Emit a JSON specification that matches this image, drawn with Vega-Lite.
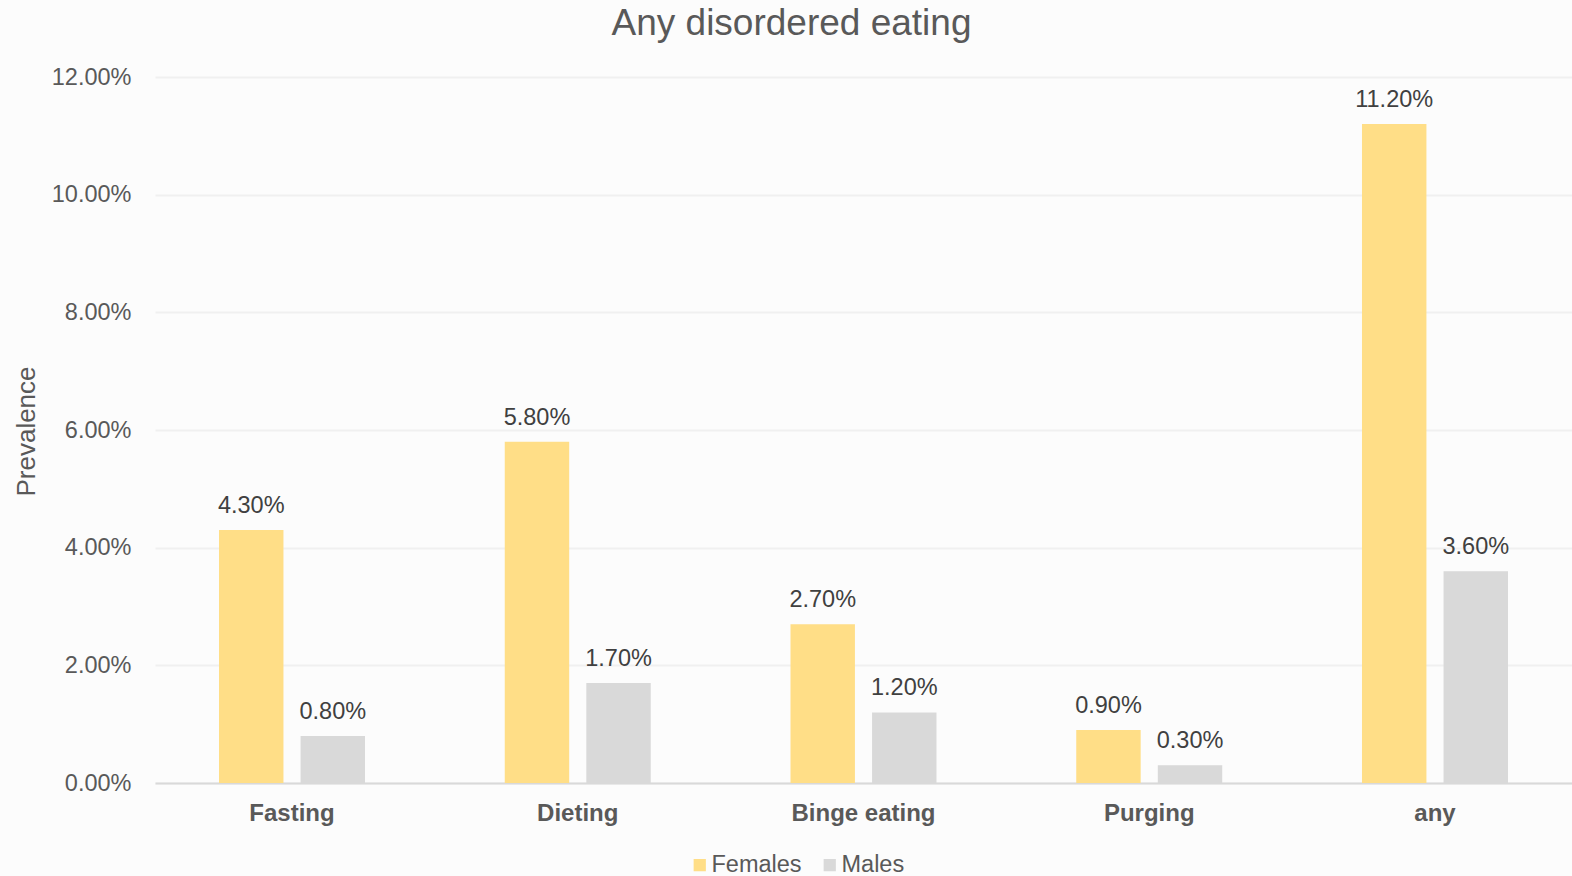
{
  "$schema": "https://vega.github.io/schema/vega-lite/v6.json",
  "width": 1417,
  "height": 706,
  "autosize": {"type": "none"},
  "padding": {"left": 155, "top": 77, "right": 0, "bottom": 93},
  "background": "#fcfcfc",
  "title": {
    "text": "Any disordered eating",
    "fontSize": 37,
    "fontWeight": "normal",
    "font": "Liberation Sans",
    "color": "#595959",
    "anchor": "middle",
    "dx": -72,
    "offset": 22
  },
  "config": {
    "font": "Liberation Sans",
    "view": {"stroke": null}
  },
  "data": {
    "values": [
      {"category": "Fasting", "sex": "Females", "value": 0.043},
      {"category": "Fasting", "sex": "Males", "value": 0.008},
      {"category": "Dieting", "sex": "Females", "value": 0.058},
      {"category": "Dieting", "sex": "Males", "value": 0.017},
      {"category": "Binge eating", "sex": "Females", "value": 0.027},
      {"category": "Binge eating", "sex": "Males", "value": 0.012},
      {"category": "Purging", "sex": "Females", "value": 0.009},
      {"category": "Purging", "sex": "Males", "value": 0.003},
      {"category": "any", "sex": "Females", "value": 0.112},
      {"category": "any", "sex": "Males", "value": 0.036}
    ]
  },
  "encoding": {
    "x": {
      "field": "category",
      "type": "nominal",
      "sort": ["Fasting", "Dieting", "Binge eating", "Purging", "any"],
      "scale": {"paddingInner": 0.489, "paddingOuter": 0.224},
      "axis": {
        "title": null,
        "labelAngle": 0,
        "ticks": false,
        "labelFontSize": 24,
        "labelFontWeight": "bold",
        "labelColor": "#595959",
        "labelPadding": 18,
        "domainColor": "#d9d9d9",
        "domainWidth": 2
      }
    },
    "xOffset": {
      "field": "sex",
      "type": "nominal",
      "sort": ["Females", "Males"],
      "scale": {"paddingInner": 0.21, "paddingOuter": 0}
    },
    "y": {
      "field": "value",
      "type": "quantitative",
      "scale": {"domain": [0, 0.12]},
      "axis": {
        "title": "Prevalence",
        "values": [0, 0.02, 0.04, 0.06, 0.08, 0.1, 0.12],
        "format": ".2%",
        "domain": false,
        "ticks": false,
        "labelFontSize": 23.5,
        "labelColor": "#595959",
        "labelPadding": 24,
        "gridColor": "#f0f0f0",
        "gridWidth": 2,
        "titleFontSize": 26,
        "titleFontWeight": "normal",
        "titleColor": "#595959",
        "titleX": -129,
        "titleY": 354,
        "titleAngle": -90,
        "titleAlign": "center",
        "titleBaseline": "middle"
      }
    }
  },
  "layer": [
    {
      "mark": {"type": "bar"},
      "encoding": {
        "color": {
          "field": "sex",
          "type": "nominal",
          "scale": {"domain": ["Females", "Males"], "range": ["#FFDE87", "#D9D9D9"]},
          "legend": {
            "title": null,
            "orient": "none",
            "direction": "horizontal",
            "legendX": 533,
            "legendY": 776,
            "symbolType": "square",
            "symbolSize": 150,
            "symbolStrokeWidth": 0,
            "labelFontSize": 23.5,
            "labelColor": "#595959",
            "labelOffset": 0,
            "columnPadding": 16
          }
        }
      }
    },
    {
      "mark": {"type": "text", "dy": -17, "baseline": "alphabetic", "fontSize": 23.5, "color": "#404040"},
      "encoding": {
        "text": {"field": "value", "type": "quantitative", "format": ".2%"}
      }
    }
  ]
}
